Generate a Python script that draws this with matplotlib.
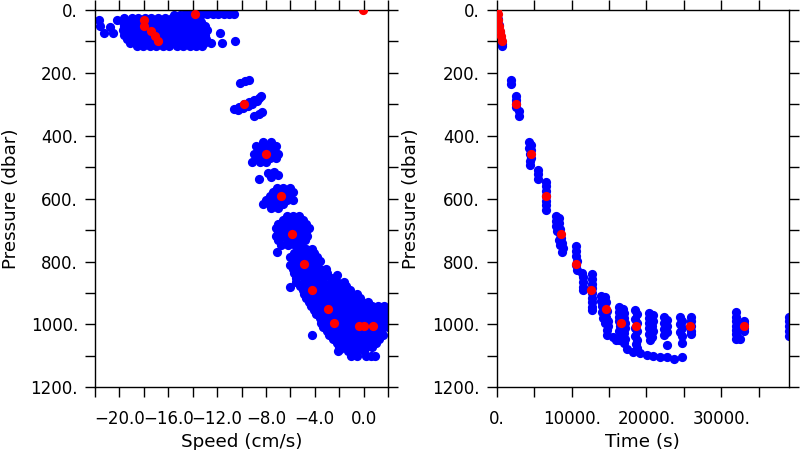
import numpy as np
import matplotlib
matplotlib.use("Agg")
import matplotlib.pyplot as plt
from matplotlib.ticker import MultipleLocator

# red: averaged profile, same pressures in both panels
red_pres = [0, 14, 32, 50, 66, 83, 100, 299, 458, 592, 711, 808, 891, 950, 997, 1005, 1005, 1005]
red_speed = [-0.05, -13.8, -18.0, -18.0, -17.4, -17.1, -16.8, -9.8, -8.0, -6.77, -5.9, -4.88,
             -4.23, -2.89, -2.43, -0.35, 0.03, 0.79]
red_time = [0, 110, 220, 330, 440, 550, 660, 2580, 4580, 6585, 8590, 10590, 12595, 14600,
            16600, 18600, 25820, 32990]

# blue, speed panel: clouds stored as rows of one pressure (dbar) and the speeds (cm/s) on it
surf_p = [26, 39, 52, 65, 78, 91, 104, 116]
surf_v = [
    [-19.6, -19.0, -18.5, -17.9, -17.4, -16.8, -16.3, -15.7, -15.2, -14.6, -14.1, -13.5],
    [-19.7, -19.2, -18.7, -18.1, -17.6, -17.1, -16.5, -16.0, -15.4, -14.9, -14.3, -13.8, -13.3],
    [-19.6, -19.0, -18.5, -17.9, -17.4, -16.8, -16.3, -15.7, -15.2, -14.6, -14.1, -13.5, -13.0],
    [-19.7, -19.2, -18.7, -18.1, -17.6, -17.1, -16.5, -16.0, -15.4, -14.9, -14.3, -13.8, -13.3, -12.8],
    [-19.6, -19.0, -18.5, -17.9, -17.4, -16.8, -16.3, -15.7, -15.2, -14.6, -14.1, -13.5, -13.0],
    [-19.4, -18.9, -18.4, -17.8, -17.3, -16.8, -16.2, -15.7, -15.1, -14.6, -14.0, -13.5, -12.9],
    [-19.1, -18.6, -18.1, -17.5, -17.0, -16.4, -15.9, -15.3, -14.8, -14.2, -13.7, -13.1],
    [-18.6, -18.1, -17.5, -17.0, -16.4, -15.9, -15.3, -14.8, -14.2, -13.7, -13.2],
]

deep_p = [420, 433, 446, 459, 472, 485,
          565, 578, 591, 604, 617, 630,
          655, 668, 681, 694, 707, 720, 733, 746,
          760, 773, 786, 799, 812, 825, 838, 851, 864, 877, 890, 903, 916, 929, 942, 955,
          968, 981, 994, 1007, 1020, 1033, 1046, 1059, 1072, 1085, 1100]
deep_v = [
    [-8.2, -7.6],
    [-8.8, -8.3, -7.7, -7.2],
    [-8.5, -8.0, -7.4],
    [-9.0, -8.5, -8.0, -7.4, -7.0],
    [-8.8, -8.3, -7.7, -7.2],
    [-9.1, -8.5, -8.0],
    [-7.1, -6.6, -6.0],
    [-7.4, -6.9, -6.3, -5.8],
    [-7.7, -7.1, -6.6, -6.0],
    [-8.0, -7.4, -6.9, -6.3, -5.8],
    [-8.2, -7.7, -7.1, -6.6],
    [-7.6, -7.0],
    [-6.3, -5.8, -5.3],
    [-6.6, -6.0, -5.5, -5.0],
    [-7.0, -6.3, -5.8, -5.2, -4.7],
    [-7.2, -6.6, -6.1, -5.5, -5.0, -4.5],
    [-7.0, -6.3, -5.8, -5.2, -4.7],
    [-7.2, -6.6, -6.1, -5.5, -5.0, -4.6],
    [-7.0, -6.3, -5.8, -5.2, -4.8],
    [-6.8, -6.2, -5.6, -5.1],
    [-5.2, -4.7, -4.2],
    [-5.7, -5.2, -4.6, -4.1],
    [-6.0, -5.5, -4.9, -4.4, -3.8],
    [-5.8, -5.2, -4.7, -4.1, -3.6],
    [-6.0, -5.5, -4.9, -4.4, -3.8],
    [-5.8, -5.2, -4.7, -4.1, -3.6, -3.1],
    [-5.7, -5.2, -4.6, -4.1, -3.5, -3.0],
    [-5.5, -4.9, -4.4, -3.8, -3.3, -2.7],
    [-5.5, -4.9, -4.4, -3.8, -3.3, -2.7, -2.2, -1.6],
    [-5.2, -4.7, -4.1, -3.6, -3.0, -2.5, -1.9, -1.4],
    [-5.0, -4.4, -3.9, -3.3, -2.8, -2.2, -1.7, -1.1],
    [-4.9, -4.4, -3.8, -3.3, -2.7, -2.2, -1.6, -1.1, -0.5],
    [-4.7, -4.1, -3.6, -3.0, -2.5, -1.9, -1.4, -0.8, -0.3],
    [-4.5, -4.0, -3.4, -2.9, -2.3, -1.8, -1.2, -0.7, -0.1, 0.4],
    [-4.3, -3.7, -3.2, -2.6, -2.1, -1.5, -1.0, -0.4, 0.1, 0.7, 1.2, 1.7],
    [-4.1, -3.5, -3.0, -2.4, -1.9, -1.3, -0.8, -0.2, 0.3, 0.9, 1.4, 1.9],
    [-3.9, -3.3, -2.8, -2.2, -1.7, -1.1, -0.6, 0.0, 0.5, 1.1, 1.6],
    [-3.6, -3.1, -2.5, -2.0, -1.4, -0.9, -0.3, 0.2, 0.8, 1.3, 1.9],
    [-3.5, -2.9, -2.4, -1.8, -1.3, -0.7, -0.2, 0.4, 0.9, 1.5],
    [-3.3, -2.8, -2.2, -1.7, -1.1, -0.6, 0.0, 0.5, 1.1, 1.6, 2.0],
    [-3.0, -2.5, -1.9, -1.4, -0.8, -0.3, 0.3, 0.8, 1.4],
    [-2.8, -2.2, -1.7, -1.1, -0.6, 0.0, 0.5, 1.1, 1.6],
    [-2.5, -1.9, -1.4, -0.8, -0.3, 0.3, 0.8, 1.3],
    [-2.2, -1.7, -1.1, -0.6, 0.0, 0.5, 1.0],
    [-2.0, -1.4, -0.9, -0.3, 0.2, 0.7],
    [-2.1, -1.3, -0.6, 0.0],
    [-1.0, -0.5, 0.2, 0.6, 0.9],
]

# loose points (speed, pressure)
spd_loose = [
    (-15.5, 15), (-15.0, 15), (-14.6, 14), (-14.1, 14), (-13.7, 14), (-13.2, 14), (-12.8, 14),
    (-12.3, 14), (-11.9, 14), (-11.4, 14), (-11.0, 14), (-10.6, 14),
    (-21.7, 32), (-21.6, 50), (-21.3, 72), (-20.8, 53), (-20.5, 74), (-20.2, 32),
    (-11.8, 74), (-11.6, 104), (-10.5, 98), (-12.5, 104),
    (-10.1, 232), (-9.7, 226), (-9.4, 222),
    (-10.65, 315), (-10.2, 307), (-9.8, 300), (-9.4, 293), (-9.0, 286), (-8.6, 279), (-8.4, 272),
    (-10.3, 318), (-9.9, 311), (-9.5, 305), (-9.1, 298), (-8.7, 291),
    (-9.0, 336), (-8.6, 332), (-8.3, 325),
    (-7.8, 518), (-7.3, 514), (-7.6, 530), (-7.0, 526), (-8.6, 539),
    (-7.1, 769), (-6.0, 880), (-2.2, 843), (-4.25, 1035), (-1.9, 1077),
]

# blue, time panel (time s, pressure dbar)
time_pts = [
    (60, 8), (200, 28), (340, 48), (470, 70), (600, 92), (680, 108), (690, 116),
    (1870, 222), (1870, 236),
    (2580, 272), (2580, 285), (2580, 298), (2580, 310), (2950, 322), (3000, 336),
    (4350, 420), (4550, 428), (4350, 440), (4600, 446), (4400, 458), (4600, 470), (4400, 480),
    (4500, 492),
    (5450, 509), (5450, 523), (5450, 537),
    (6580, 546), (6580, 561), (6580, 576), (6580, 591), (6580, 606), (6580, 621), (6580, 635),
    (7900, 655), (8300, 660), (7900, 670), (8300, 678), (7900, 686), (8400, 695), (8000, 702),
    (8500, 712), (8600, 725), (8300, 732), (8700, 740), (8400, 748), (8800, 756), (8700, 769),
    (10600, 752), (10600, 767), (10600, 782), (10700, 797), (10600, 812), (10700, 826),
    (11400, 835), (11500, 850), (11500, 865), (11500, 880), (11500, 892),
    (12690, 840), (12690, 855), (12690, 870), (12690, 885), (12690, 900), (12690, 915),
    (12690, 930), (12690, 945), (12690, 955),
    (13900, 910), (14500, 912), (13900, 925), (14600, 928), (14000, 942), (14700, 958),
    (14100, 962), (14600, 975), (14200, 980), (14800, 990), (14400, 996), (14900, 1005),
    (14700, 1018), (14700, 1034), (15600, 1040),
    (16300, 945), (16900, 950), (16300, 960), (17000, 965), (16400, 975), (17000, 980),
    (16300, 990), (17100, 995), (16500, 1005), (17100, 1012), (16400, 1020), (17000, 1028),
    (16600, 1036), (17200, 1045), (16300, 1050), (17000, 1058), (16000, 1050),
    (18500, 955), (18800, 968), (18500, 982), (18800, 995), (18500, 1010), (18800, 1022),
    (18500, 1036), (18800, 1048), (18600, 1062), (18700, 1075),
    (17360, 1077), (18250, 1088), (19140, 1091), (20030, 1098), (20920, 1101), (21810, 1103),
    (22700, 1103), (23680, 1109), (24710, 1103),
    (20300, 965), (20900, 970), (20400, 980), (20900, 988), (20300, 995), (20800, 1005),
    (20400, 1012), (20900, 1022), (20400, 1030), (20800, 1040), (20500, 1048),
    (22300, 975), (22700, 985), (22300, 995), (22700, 1005), (22300, 1015), (22700, 1025),
    (22400, 1035), (22700, 1066),
    (24500, 975), (24800, 988), (24500, 1000), (24800, 1012), (24500, 1025), (24700, 1038),
    (24700, 1058),
    (25900, 975), (25900, 990), (25900, 1005), (25900, 1020), (25900, 1030),
    (31900, 962), (31900, 976), (31900, 990), (31900, 1004), (31900, 1018), (31900, 1032),
    (31900, 1046),
    (33000, 990), (33100, 1000), (33000, 1012), (33100, 1022), (32500, 1045),
    (39000, 975), (39000, 990), (39000, 1005), (39000, 1020), (39000, 1038),
]

p_ticks = [0, 200, 400, 600, 800, 1000, 1200]
p_labels = ["0.", "200.", "400.", "600.", "800.", "1000.", "1200."]
spd_ticks = [-20, -16, -12, -8, -4, 0]
spd_labels = ["\u221220.0", "\u221216.0", "\u221212.0", "\u22128.0", "\u22124.0", "0.0"]
t_ticks = [0, 10000, 20000, 30000]
t_labels = ["0.", "10000.", "20000.", "30000."]

# unpack rows into point lists
blue_spd, blue_spd_p = [], []
for p_list, v_list in [(surf_p, surf_v), (deep_p, deep_v)]:
    for p, row in zip(p_list, v_list):
        blue_spd += row
        blue_spd_p += [p] * len(row)
blue_spd += [v for v, p in spd_loose]
blue_spd_p += [p for v, p in spd_loose]
blue_t = [t for t, p in time_pts]
blue_t_p = [p for t, p in time_pts]

fig = plt.figure(figsize=(8, 4.5), dpi=100)
ax1 = fig.add_axes([0.11875, 0.1393, 0.36625, 0.8385])
ax2 = fig.add_axes([0.6209, 0.1393, 0.3654, 0.8385])

ms = 44
ax1.scatter(blue_spd, blue_spd_p, s=ms, c="#0000ff", linewidths=0, zorder=2)
ax1.scatter(red_speed, red_pres, s=ms, c="#ff0000", linewidths=0, zorder=3)
ax2.scatter(blue_t, blue_t_p, s=ms, c="#0000ff", linewidths=0, zorder=2)
ax2.scatter(red_time, red_pres, s=ms, c="#ff0000", linewidths=0, zorder=3)

ax1.set_xlim(-22, 2)
ax2.set_xlim(0, 39050)
ax1.set_xticks(spd_ticks, spd_labels)
ax1.xaxis.set_minor_locator(MultipleLocator(2))
ax2.set_xticks(t_ticks, t_labels)
ax2.xaxis.set_minor_locator(MultipleLocator(5000))

for ax, xl, lx in [(ax1, "Speed (cm/s)", -0.255), (ax2, "Time (s)", -0.262)]:
    ax.set_ylim(1200, 0)
    ax.set_yticks(p_ticks, p_labels)
    ax.yaxis.set_minor_locator(MultipleLocator(100))
    ax.tick_params(which="both", direction="out", length=7.2, width=1.0,
                   top=True, right=True, labelsize=12, colors="black")
    ax.tick_params(axis="x", pad=9)
    ax.tick_params(axis="y", pad=5)
    for s in ax.spines.values():
        s.set_linewidth(1.0)
    ax.set_xlabel(xl, fontsize=13.2)
    ax.set_ylabel("Pressure (dbar)", fontsize=13.2)
    ax.xaxis.set_label_coords(0.5, -0.121)
    ax.yaxis.set_label_coords(lx, 0.5)

fig.savefig("out.png", dpi=100)
